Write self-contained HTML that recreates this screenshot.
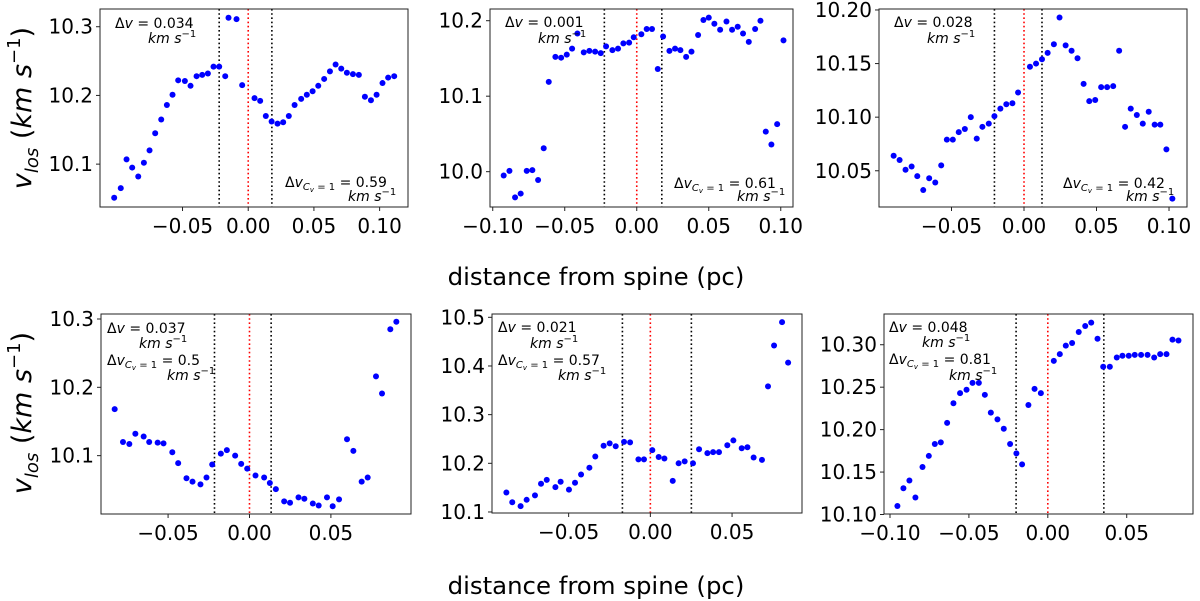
<!DOCTYPE html>
<html><head><meta charset="utf-8"><style>
html,body{margin:0;padding:0;background:#fff;}
svg{display:block;font-family:"DejaVu Sans","Liberation Sans",sans-serif;}
</style></head><body>
<svg id="fig" width="1200" height="601" viewBox="0 0 1200 601" xmlns="http://www.w3.org/2000/svg">
<text transform="translate(31,108) rotate(-90)" text-anchor="middle" font-size="27"><tspan font-style="italic">v</tspan><tspan font-style="italic" font-size="18" dy="7">los</tspan><tspan dy="-7"> (</tspan><tspan font-style="italic">km s</tspan><tspan font-size="18" dy="-11">−1</tspan><tspan dy="11">)</tspan></text>
<text transform="translate(31,413) rotate(-90)" text-anchor="middle" font-size="27"><tspan font-style="italic">v</tspan><tspan font-style="italic" font-size="18" dy="7">los</tspan><tspan dy="-7"> (</tspan><tspan font-style="italic">km s</tspan><tspan font-size="18" dy="-11">−1</tspan><tspan dy="11">)</tspan></text>
<text x="596" y="285" text-anchor="middle" font-size="24.4">distance from spine (pc)</text>
<text x="596" y="594" text-anchor="middle" font-size="24.4">distance from spine (pc)</text>
</svg>
<script>
const p1X=[-0.102,-0.097,-0.0926,-0.0883,-0.0837,-0.0794,-0.0751,-0.0708,-0.0662,-0.0619,-0.0576,-0.0533,-0.0482,-0.0439,-0.0393,-0.035,-0.0307,-0.0264,-0.0221,-0.0175,-0.015,-0.0089,-0.0046,0.0048,0.0091,0.0134,0.0178,0.0223,0.0266,0.0309,0.0353,0.0403,0.0446,0.049,0.0533,0.0578,0.0622,0.0665,0.0708,0.0751,0.0797,0.0842,0.0888,0.0934,0.0977,0.1022,0.1065,0.1111];
const p1V=[10.051,10.065,10.107,10.095,10.082,10.102,10.120,10.145,10.165,10.186,10.201,10.222,10.221,10.214,10.228,10.230,10.232,10.242,10.242,10.228,10.313,10.311,10.215,10.196,10.192,10.170,10.162,10.159,10.161,10.170,10.186,10.195,10.201,10.206,10.214,10.224,10.235,10.245,10.239,10.233,10.231,10.230,10.198,10.193,10.201,10.218,10.226,10.228];
const p2X=[-0.0924,-0.0884,-0.0845,-0.0806,-0.0764,-0.0725,-0.0685,-0.0646,-0.0611,-0.0565,-0.0525,-0.0486,-0.0449,-0.0412,-0.0368,-0.0329,-0.0289,-0.025,-0.0213,-0.0169,-0.013,-0.0093,-0.0053,-0.0021,0.0032,0.0069,0.0106,0.0146,0.0183,0.0227,0.0266,0.0303,0.0343,0.038,0.0426,0.0463,0.05,0.0539,0.0579,0.0623,0.0662,0.0701,0.0738,0.0778,0.0822,0.0859,0.0896,0.0935,0.0975,0.1019];
const p2V=[9.995,10.001,9.966,9.971,10.001,10.002,9.989,10.031,10.119,10.152,10.151,10.155,10.163,10.183,10.158,10.160,10.159,10.157,10.166,10.161,10.163,10.170,10.171,10.178,10.182,10.189,10.189,10.136,10.179,10.160,10.163,10.161,10.152,10.159,10.181,10.201,10.204,10.196,10.188,10.199,10.188,10.192,10.183,10.172,10.189,10.200,10.053,10.036,10.063,10.174];
const p3X=[-0.0899,-0.0858,-0.0817,-0.0775,-0.0736,-0.0695,-0.0654,-0.0612,-0.0571,-0.0532,-0.0491,-0.045,-0.0408,-0.0367,-0.0326,-0.0287,-0.0243,-0.0204,-0.0163,-0.0122,-0.008,-0.0041,0.0041,0.0083,0.0124,0.0163,0.0206,0.0245,0.0287,0.0328,0.0369,0.0411,0.045,0.0491,0.0532,0.0573,0.0615,0.0656,0.0697,0.0736,0.0778,0.0819,0.086,0.0901,0.094,0.0982,0.1023];
const p3V=[10.064,10.060,10.051,10.054,10.045,10.032,10.043,10.039,10.055,10.079,10.079,10.086,10.089,10.100,10.080,10.091,10.094,10.101,10.108,10.112,10.113,10.123,10.147,10.150,10.154,10.160,10.168,10.193,10.167,10.162,10.155,10.131,10.115,10.116,10.128,10.128,10.129,10.162,10.091,10.108,10.102,10.094,10.105,10.093,10.093,10.070,10.024];
const p4X=[-0.0828,-0.0777,-0.0738,-0.0701,-0.065,-0.0616,-0.0564,-0.0528,-0.0474,-0.0438,-0.0387,-0.035,-0.0301,-0.0264,-0.0229,-0.0176,-0.0139,-0.0088,-0.0051,-0.0014,0.0037,0.009,0.0125,0.0162,0.0213,0.0249,0.0301,0.0337,0.0389,0.0425,0.0476,0.0511,0.055,0.0599,0.0638,0.0689,0.0726,0.0777,0.0814,0.0865,0.0902];
const p4V=[10.168,10.120,10.117,10.132,10.128,10.120,10.119,10.118,10.105,10.089,10.067,10.062,10.058,10.068,10.087,10.103,10.108,10.100,10.088,10.081,10.071,10.068,10.060,10.051,10.033,10.031,10.039,10.037,10.030,10.027,10.039,10.026,10.036,10.124,10.107,10.062,10.068,10.216,10.191,10.285,10.296];
const p5X=[-0.0881,-0.0845,-0.0794,-0.0757,-0.0706,-0.0669,-0.0634,-0.0581,-0.0549,-0.0498,-0.0461,-0.0424,-0.0373,-0.0337,-0.0286,-0.0249,-0.0212,-0.0161,-0.0124,-0.0073,-0.0039,0.0012,0.0051,0.0086,0.0137,0.0173,0.021,0.0261,0.0298,0.0349,0.0384,0.042,0.0471,0.0508,0.0559,0.0594,0.0632,0.0683,0.072,0.0757,0.0806,0.0843];
const p5V=[10.140,10.120,10.112,10.125,10.134,10.158,10.166,10.151,10.162,10.146,10.160,10.177,10.191,10.214,10.236,10.241,10.235,10.244,10.243,10.208,10.208,10.227,10.213,10.210,10.164,10.200,10.204,10.200,10.229,10.221,10.223,10.223,10.237,10.247,10.231,10.233,10.212,10.207,10.358,10.442,10.490,10.407];
const p6X=[-0.0953,-0.0915,-0.0877,-0.0839,-0.0794,-0.0754,-0.0716,-0.0678,-0.0638,-0.0598,-0.0556,-0.0515,-0.0477,-0.0437,-0.0399,-0.0361,-0.0319,-0.0279,-0.0239,-0.0199,-0.0163,-0.0123,-0.0084,-0.0044,0.0038,0.0076,0.0114,0.0154,0.0196,0.0237,0.0275,0.0315,0.0351,0.0393,0.0437,0.0473,0.0513,0.0551,0.0591,0.0632,0.0674,0.0712,0.0752,0.079,0.0828];
const p6V=[10.110,10.131,10.140,10.120,10.156,10.169,10.183,10.185,10.208,10.231,10.243,10.247,10.255,10.255,10.241,10.220,10.212,10.201,10.183,10.172,10.159,10.229,10.248,10.243,10.281,10.289,10.299,10.302,10.315,10.322,10.326,10.307,10.274,10.274,10.285,10.287,10.287,10.288,10.288,10.288,10.285,10.289,10.289,10.306,10.305];
const xTicksA=[-0.05,0,0.05,0.10];
const xTicksB=[-0.10,-0.05,0,0.05,0.10];
const xTicksC=[-0.05,0,0.05];
const xTicksD=[-0.10,-0.05,0,0.05];
const yTicks1=[10.1,10.2,10.3];
const yTicks2=[10.0,10.1,10.2];
const yTicks3=[10.05,10.10,10.15,10.20];
const yTicks4=[10.1,10.2,10.3];
const yTicks5=[10.1,10.2,10.3,10.4,10.5];
const yTicks6=[10.10,10.15,10.20,10.25,10.30];
const vlines1=[-0.0221,0.018];
const vlines2=[-0.0225,0.0174];
const vlines3=[-0.0204,0.0124];
const vlines4=[-0.0215,0.0133];
const vlines5=[-0.0171,0.0251];
const vlines6=[-0.0201,0.0355];
const dv=["0.034","0.001","0.028","0.037","0.021","0.048"];
const dvc=["0.59","0.61","0.42","0.5","0.57","0.81"];

const NS="http://www.w3.org/2000/svg";
const svg=document.getElementById('fig');
function mk(tag,attrs,parent){const e=document.createElementNS(NS,tag);for(const k in attrs)e.setAttribute(k,attrs[k]);(parent||svg).appendChild(e);return e;}

const panels=[
 {box:[100,408,9,207],xl:[-0.1128,0.1216],yl:[10.0376,10.3258],xt:xTicksA,yt:yTicks1,yd:1,X:p1X,V:p1V,vl:vlines1,ann:[[115,28,148,43],[285,187,348,201]]},
 {box:[490,793,9,207],xl:[-0.1019,0.1085],yl:[9.9532,10.2155],xt:xTicksB,yt:yTicks2,yd:1,X:p2X,V:p2V,vl:vlines2,ann:[[505,27,538,43],[674,188,737,201]]},
 {box:[879,1187,9,207],xl:[-0.1,0.1124],yl:[10.0162,10.2009],xt:xTicksA,yt:yTicks3,yd:2,X:p3X,V:p3V,vl:vlines3,ann:[[894,27,927,43],[1063,188,1126,201]]},
 {box:[101,411,314,514],xl:[-0.0912,0.0992],yl:[10.0146,10.3073],xt:xTicksC,yt:yTicks4,yd:1,X:p4X,V:p4V,vl:vlines4,ann:[[107,333,139,348],[107,365,167,380]]},
 {box:[492,802,314,513],xl:[-0.0969,0.0928],yl:[10.0979,10.5068],xt:xTicksC,yt:yTicks5,yd:1,X:p5X,V:p5V,vl:vlines5,ann:[[498,332,530,348],[498,365,558,380]]},
 {box:[884,1193,314,514],xl:[-0.1038,0.0920],yl:[10.1006,10.3362],xt:xTicksD,yt:yTicks6,yd:2,X:p6X,V:p6V,vl:vlines6,ann:[[889,332,922,347],[889,364,949,380]]}
];

function kms(g,x,y){
 const t=mk('text',{x:x,y:y,'font-size':14},g);
 t.innerHTML='<tspan font-style="italic">km s</tspan><tspan font-size="10" dy="-6">−1</tspan>';
}

panels.forEach((p,i)=>{
 const [x0,x1,y0,y1]=p.box;
 const sx=v=>x0+(v-p.xl[0])/(p.xl[1]-p.xl[0])*(x1-x0);
 const sy=v=>y1-(v-p.yl[0])/(p.yl[1]-p.yl[0])*(y1-y0);
 const g=mk('g',{});
 
 
 p.vl.forEach((v,j)=>{
  const l=mk('line',{x1:sx(v),x2:sx(v),y1:y0,y2:y1,stroke:'#000','stroke-width':1.6,'stroke-dasharray':'1.6,2.6'},g);
  
  
 });
 const r=mk('line',{x1:sx(0),x2:sx(0),y1:y0,y2:y1,stroke:'#f00','stroke-width':1.6,'stroke-dasharray':'1.6,2.6'},g);
 
 
 p.X.forEach((x,k)=>{
  const c=mk('circle',{cx:sx(x),cy:sy(p.V[k]),r:3,fill:'#0000ff'},g);
  
  
 });
 const f=mk('rect',{x:x0,y:y0,width:x1-x0,height:y1-y0,fill:'none',stroke:'#222','stroke-width':1},g);
 
 
 p.xt.forEach(v=>{
  const X=sx(v);
  mk('line',{x1:X,x2:X,y1:y1,y2:y1+4,stroke:'#222','stroke-width':1},g);
  const t=mk('text',{x:X,y:y1+26,'text-anchor':'middle','font-size':20},g);
  
  
  t.textContent=(v<0?'−':'')+Math.abs(v).toFixed(2);
 });
 p.yt.forEach(v=>{
  const Y=sy(v);
  mk('line',{x1:x0-4,x2:x0,y1:Y,y2:Y,stroke:'#222','stroke-width':1},g);
  const t=mk('text',{x:x0-7,y:Y+7,'text-anchor':'end','font-size':20},g);
  
  
  t.textContent=v.toFixed(p.yd);
 });
 const a=p.ann;
 const t1=mk('text',{x:a[0][0],y:a[0][1],'font-size':14},g);
 
 
 t1.innerHTML='Δ<tspan font-style="italic">v</tspan> = '+dv[i];
 kms(g,a[0][2],a[0][3]);
 const t2=mk('text',{x:a[1][0],y:a[1][1],'font-size':14},g);
 
 
 t2.innerHTML='Δ<tspan font-style="italic">v</tspan><tspan font-style="italic" font-size="10" dy="3">C</tspan><tspan font-style="italic" font-size="7" dy="2">v</tspan><tspan font-size="10" dy="-2"> = 1</tspan><tspan dy="-3"> = '+dvc[i]+'</tspan>';
 kms(g,a[1][2],a[1][3]);
});
</script>
</body></html>
